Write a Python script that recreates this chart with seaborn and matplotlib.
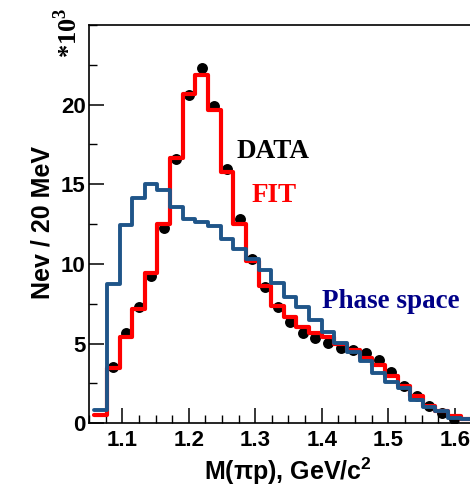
import numpy as np
import pandas as pd
import matplotlib
matplotlib.use("Agg")
import matplotlib.pyplot as plt
from matplotlib.ticker import MultipleLocator
import seaborn as sns

# ---- data (values in units of 10^3 events per bin) ----
bin_start = 1.058
bin_width = 0.019
data_vals = [np.nan, 3.55, 5.68, 7.30, 9.25, 12.25, 16.6, 20.6, 22.3, 19.9,
             15.96, 12.8, 10.3, 8.54, 7.32, 6.38, 5.69, 5.34, 5.02, 4.72,
             4.63, 4.39, 4.00, 3.19, 2.37, 1.71, 1.07, 0.66, 0.29]
fit_vals = [0.55, 3.45, 5.40, 7.15, 9.46, 12.5, 16.63, 20.7, 21.86, 19.67,
            15.8, 12.5, 10.19, 8.62, 7.36, 6.65, 6.07, 5.65, 5.44, 5.00,
            4.62, 4.10, 3.63, 2.98, 2.31, 1.72, 1.08, 0.75, 0.45, 0.26, 0.20]
phase_vals = [0.85, 8.74, 12.43, 14.16, 15.02, 14.65, 13.55, 12.85, 12.62, 12.40,
              11.55, 10.95, 10.29, 9.62, 8.79, 7.95, 7.28, 6.48, 5.75, 5.05,
              4.46, 3.91, 3.14, 2.57, 2.20, 1.46, 1.04, 0.77, 0.35, 0.30, 0.25]
x_ticks = [1.1, 1.2, 1.3, 1.4, 1.5, 1.6]
y_ticks = [0, 5, 10, 15, 20]

nb = len(fit_vals)
edges = [float(e) for e in (bin_start + bin_width * np.arange(nb + 1))]
centers = [0.5 * (edges[i] + edges[i + 1]) for i in range(nb)]

fit_df = pd.DataFrame({"m": centers, "w": fit_vals})
ph_df = pd.DataFrame({"m": centers, "w": phase_vals})
dat_df = pd.DataFrame({"m": centers[:len(data_vals)], "v": data_vals}).dropna()

sns.set_theme(style="ticks")
plt.rcParams["font.family"] = ["Liberation Sans", "DejaVu Sans"]
plt.rcParams["mathtext.fontset"] = "custom"
plt.rcParams["mathtext.rm"] = "Liberation Serif:bold"
plt.rcParams["mathtext.bf"] = "Liberation Serif:bold"
plt.rcParams["mathtext.sf"] = "Liberation Sans:bold"
for k in ["text.color", "axes.labelcolor", "xtick.color", "ytick.color",
          "xtick.labelcolor", "ytick.labelcolor", "axes.edgecolor"]:
    plt.rcParams[k] = "black"

W, H = 470, 488
fig = plt.figure(figsize=(W / 100, H / 100), dpi=100)
ax_left, ax_bottom = 89 / W, 1 - 423.3 / H
ax_top = 1 - 25 / H
x0, x1 = 1.05, 1.65
px_per_unit = 665.0
ax_w_px = (x1 - x0) * px_per_unit
ax = fig.add_axes([ax_left, ax_bottom, ax_w_px / W, ax_top - ax_bottom])

sns.scatterplot(data=dat_df, x="m", y="v", ax=ax, color="black", s=62,
                edgecolor="black", linewidth=0, zorder=2)
sns.histplot(data=fit_df, x="m", weights="w", bins=edges, element="step",
             fill=False, color="#ff0000", linewidth=3.0, ax=ax, zorder=3)
sns.histplot(data=ph_df, x="m", weights="w", bins=edges, element="step",
             fill=False, color="#1f5589", linewidth=2.8, ax=ax, zorder=4)

ax.set_xlim(x0, x1)
ax.set_ylim(0, 25)
ax.set_xticks(x_ticks)
ax.set_xticklabels([f"{t:.1f}" for t in x_ticks])
ax.set_yticks(y_ticks)
ax.set_yticklabels([str(t) for t in y_ticks])
ax.xaxis.set_minor_locator(MultipleLocator(0.025))
ax.yaxis.set_minor_locator(MultipleLocator(2.5))
ax.tick_params(which="major", direction="in", length=11, width=1.1,
               labelsize=16, color="black", labelcolor="black")
ax.tick_params(which="minor", direction="in", length=5.5, width=1.0,
               color="black")
ax.tick_params(axis="x", which="major", pad=5)
ax.tick_params(axis="y", which="major", pad=2.5)
for lab in ax.get_xticklabels() + ax.get_yticklabels():
    lab.set_fontweight("bold")
for sp in ["left", "bottom", "top"]:
    ax.spines[sp].set_visible(True)
    ax.spines[sp].set_linewidth(1.2)
    ax.spines[sp].set_color("black")
ax.spines["right"].set_visible(False)

ax.set_xlabel("M(\u03c0p), GeV/c$^{\\mathsf{2}}$", fontsize=18, fontweight="bold")
ax.set_ylabel("Nev / 20 MeV", fontsize=18, fontweight="bold")
ax.xaxis.set_label_coords((288 - 89) / ax_w_px, (423.3 - 471) / 398.3)
ax.yaxis.set_label_coords((43 - 89) / ax_w_px, (423.3 - 222.5) / 398.3)
ax.xaxis.label.set_va("center")
ax.yaxis.label.set_va("center")

fig.text(68 / W, 1 - 33 / H, r"*10$^{3}$", rotation=90, ha="center",
         va="center", fontsize=19, fontweight="bold",
         family="Liberation Serif")

ax.text(1.2725, 16.63, "DATA", fontsize=19.5, fontweight="bold",
        family="Liberation Serif", color="black", ha="left", va="baseline")
ax.text(1.295, 13.9, "FIT", fontsize=19.5, fontweight="bold",
        family="Liberation Serif", color="#ff0000", ha="left", va="baseline")
ax.text(1.3998, 7.22, "Phase space", fontsize=19.5, fontweight="bold",
        family="Liberation Serif", color="#000088", ha="left", va="baseline")

fig.savefig("out.png", dpi=100)
